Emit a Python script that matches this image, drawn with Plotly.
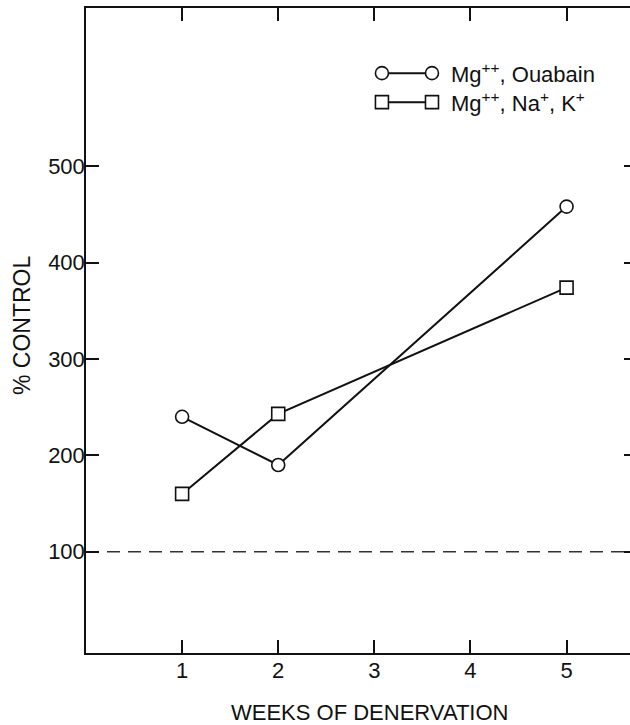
import plotly.graph_objects as go

# ---- data ----
weeks = [1, 2, 5]
ouabain = [240, 190, 458]          # Mg++, Ouabain (circles)
na_k = [160, 243, 374]             # Mg++, Na+, K+ (squares)
control_level = 100
x_ticks = [1, 2, 3, 4, 5]
y_ticks = [100, 200, 300, 400, 500]
series_names = ["Mg<sup>++</sup>, Ouabain", "Mg<sup>++</sup>, Na<sup>+</sup>, K<sup>+</sup>"]
x_title = "WEEKS OF DENERVATION"
y_title = "% CONTROL"

FONT = "Liberation Sans, Arial, sans-serif"
INK = "#111111"

fig = go.Figure()

fig.add_trace(go.Scatter(
    x=weeks, y=ouabain, mode="lines+markers", name=series_names[0],
    line=dict(color=INK, width=2),
    marker=dict(symbol="circle", size=13, color="white", line=dict(color=INK, width=1.6)),
    showlegend=False,
))
fig.add_trace(go.Scatter(
    x=weeks, y=na_k, mode="lines+markers", name=series_names[1],
    line=dict(color=INK, width=2),
    marker=dict(symbol="square", size=13, color="white", line=dict(color=INK, width=1.6)),
    showlegend=False,
))
# empty trace to activate right-side tick axis
fig.add_trace(go.Scatter(x=[], y=[], yaxis="y2", showlegend=False, hoverinfo="skip"))

shapes = []
# control (100%) dashed reference line
shapes.append(dict(type="line", xref="paper", x0=0, x1=1, yref="y", y0=control_level, y1=control_level,
                   line=dict(color="#333333", width=1.5, dash="13px,8px"), layer="below"))

# custom legend (marker-line-marker)
leg_x0, leg_x1, leg_text_x = 0.544, 0.636, 0.667
leg_rows = [0.899, 0.854]
symbols = ["circle", "rect"]
annotations = []
for row_y, sym, label in zip(leg_rows, symbols, series_names):
    shapes.append(dict(type="line", xref="paper", yref="paper", x0=leg_x0, x1=leg_x1, y0=row_y, y1=row_y,
                       line=dict(color=INK, width=2)))
    for ax in (leg_x0, leg_x1):
        shapes.append(dict(type=sym, xref="paper", yref="paper", xsizemode="pixel", ysizemode="pixel",
                           xanchor=ax, yanchor=row_y, x0=-6.5, x1=6.5, y0=-6.5, y1=6.5,
                           fillcolor="white", line=dict(color=INK, width=1.6)))
    annotations.append(dict(text=label, xref="paper", yref="paper", x=leg_text_x, y=row_y,
                            xanchor="left", yanchor="middle", showarrow=False,
                            font=dict(family=FONT, size=22, color=INK)))

# axis titles
annotations.append(dict(text=x_title, xref="paper", yref="paper", x=0.522, y=-0.093,
                        xanchor="center", yanchor="middle", showarrow=False,
                        font=dict(family=FONT, size=22, color=INK)))
annotations.append(dict(text=y_title, xref="paper", yref="paper", x=-0.1176, y=0.5085,
                        xanchor="center", yanchor="middle", showarrow=False, textangle=-90,
                        font=dict(family=FONT, size=23, color=INK)))

fig.update_layout(
    width=630, height=725,
    margin=dict(l=86, r=0, t=8, b=72),
    paper_bgcolor="white", plot_bgcolor="white",
    font=dict(family=FONT, size=22, color=INK),
    showlegend=False,
    shapes=shapes,
    annotations=annotations,
    xaxis=dict(range=[0, 5.66], tickvals=x_ticks, ticks="inside", ticklen=13, tickwidth=1.5,
               tickcolor=INK, showline=True, linecolor=INK, linewidth=1.5, mirror="ticks",
               showgrid=False, zeroline=False, ticklabelstandoff=-3,
               tickfont=dict(family=FONT, size=22, color=INK)),
    yaxis=dict(range=[-5, 664], tickvals=y_ticks, ticks="inside", ticklen=13, tickwidth=1.5,
               tickcolor=INK, showline=True, linecolor=INK, linewidth=1.5, mirror=False,
               showgrid=False, zeroline=False, ticklabelstandoff=-5,
               tickfont=dict(family=FONT, size=22, color=INK)),
    yaxis2=dict(range=[-5, 664], overlaying="y", side="right", anchor="x", tickvals=y_ticks,
                ticks="inside", ticklen=6, tickwidth=1.5, tickcolor=INK, showticklabels=False,
                showline=False, showgrid=False, zeroline=False),
)

fig.write_html("out.html")
